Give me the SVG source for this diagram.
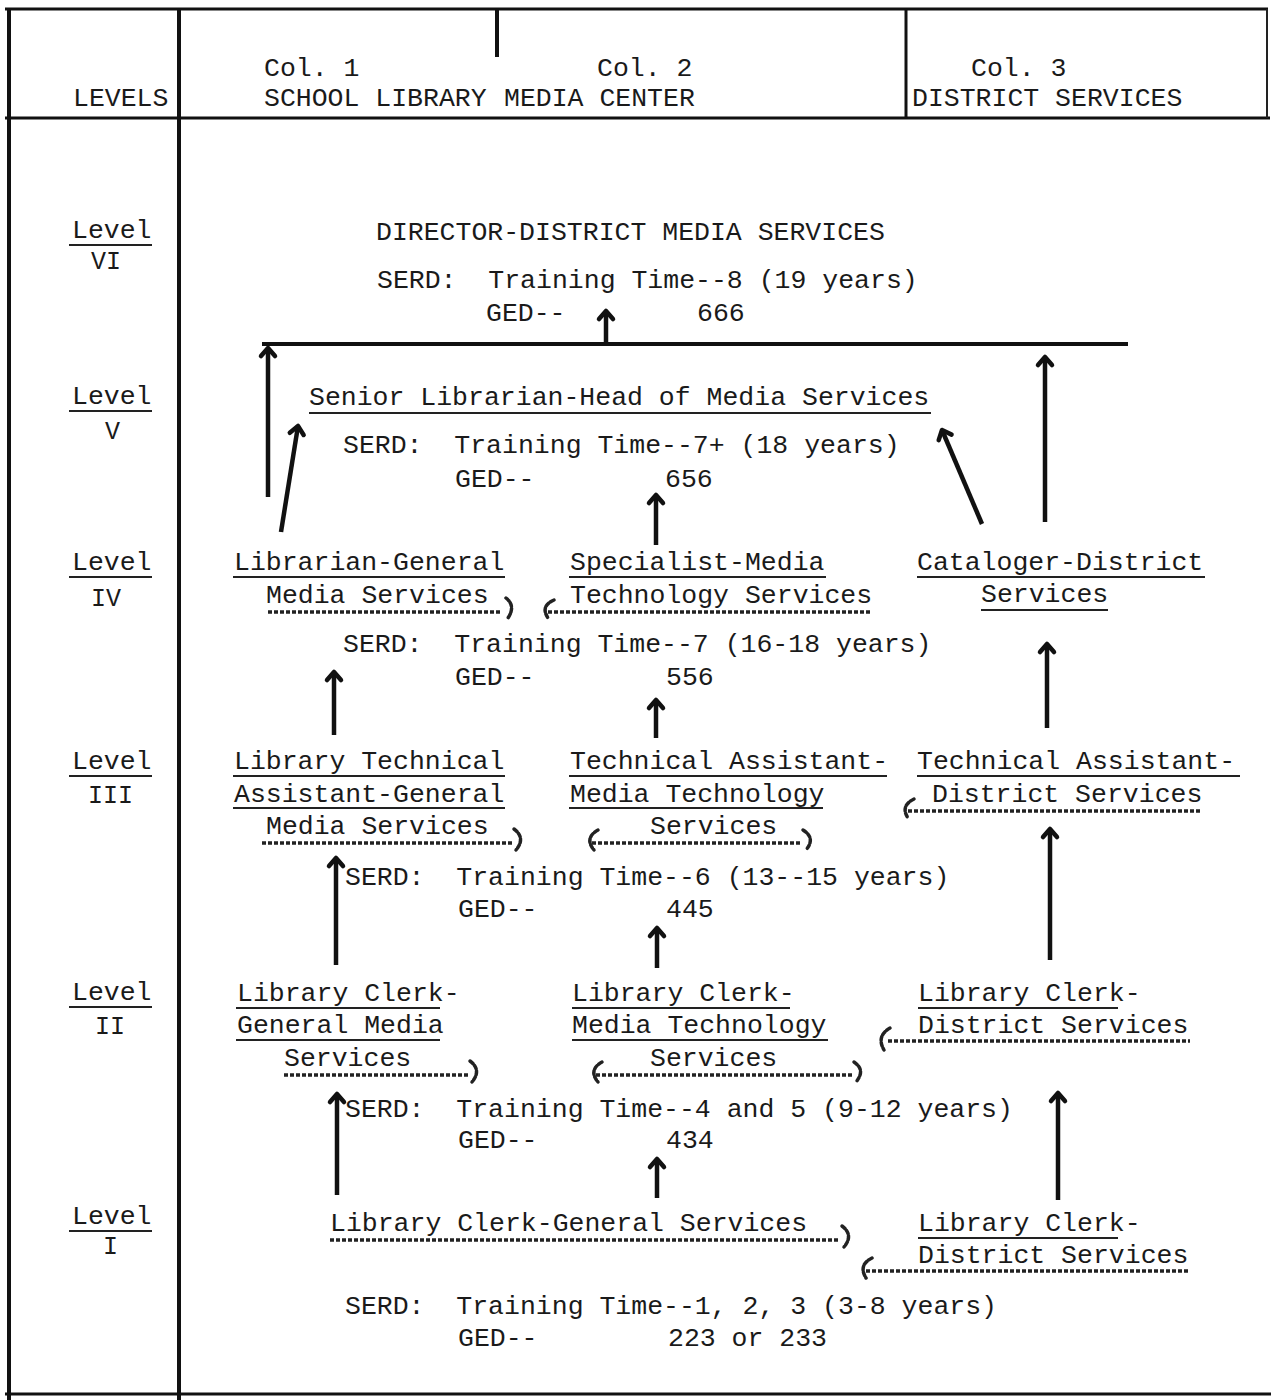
<svg xmlns="http://www.w3.org/2000/svg" width="1271" height="1400" viewBox="0 0 1271 1400" xml:space="preserve">
<style>
text{font-family:"Liberation Mono","Courier New",monospace;font-size:26.5px;fill:#1a1a1a;white-space:pre}
.lv{font-size:25px}
.frame{stroke:#111;stroke-width:4;fill:none}
.thin{stroke:#111;stroke-width:3;fill:none}
.ul{stroke:#222;stroke-width:2;fill:none}
.dot{stroke:#222;stroke-width:3.5;fill:none;stroke-dasharray:4 2}
.hook{stroke:#222;stroke-width:3.5;fill:none;stroke-dasharray:4 2;stroke-linecap:round}
.arr{stroke:#111;stroke-width:4.5;fill:none;marker-end:url(#ah)}
</style>
<defs>
<marker id="ah" markerUnits="userSpaceOnUse" markerWidth="24" markerHeight="24" viewBox="-12 -12 24 24" refX="0" refY="0" orient="auto">
<path d="M-8,-7 L0,0 L-8,7" stroke="#111" stroke-width="4.5" fill="none" stroke-linecap="round" stroke-linejoin="round"/>
</marker>
</defs>
<rect width="1271" height="1400" fill="#fff"/>

<g id="frame">
<line class="thin" x1="5" y1="9" x2="1268" y2="9"/>
<line class="thin" x1="5" y1="118" x2="1270" y2="118"/>
<line class="thin" x1="5" y1="1394" x2="1271" y2="1394"/>
<line class="frame" x1="9" y1="9" x2="9" y2="1400"/>
<line class="frame" x1="179" y1="9" x2="179" y2="1400"/>
<line class="frame" x1="497" y1="9" x2="497" y2="57"/>
<line class="thin" x1="906" y1="9" x2="906" y2="118"/>
<line class="ul" x1="1267" y1="9" x2="1267" y2="118"/>
</g>

<g id="header">
<text x="73" y="106">LEVELS</text>
<text x="264" y="76">Col. 1</text>
<text x="597" y="76">Col. 2</text>
<text x="971" y="76">Col. 3</text>
<text x="264" y="106">SCHOOL LIBRARY</text>
<text x="504" y="106">MEDIA CENTER</text>
<text x="912" y="106">DISTRICT SERVICES</text>
</g>

<g id="levels">
<text x="72" y="238">Level</text><line class="ul" x1="69" y1="245" x2="152" y2="245"/><text class="lv" x="91" y="269">VI</text>
<text x="72" y="404">Level</text><line class="ul" x1="69" y1="411" x2="152" y2="411"/><text class="lv" x="105" y="439">V</text>
<text x="72" y="570">Level</text><line class="ul" x1="69" y1="577" x2="152" y2="577"/><text class="lv" x="91" y="606">IV</text>
<text x="72" y="769">Level</text><line class="ul" x1="69" y1="776" x2="152" y2="776"/><text class="lv" x="88" y="803">III</text>
<text x="72" y="1000">Level</text><line class="ul" x1="69" y1="1007" x2="152" y2="1007"/><text class="lv" x="95" y="1034">II</text>
<text x="72" y="1224">Level</text><line class="ul" x1="69" y1="1231" x2="152" y2="1231"/><text class="lv" x="103" y="1254">I</text>
</g>

<g id="node-director">
<text x="376" y="240">DIRECTOR-DISTRICT MEDIA SERVICES</text>
<text x="377" y="288">SERD:  Training Time--8 (19 years)</text>
<text x="486" y="321">GED--</text><text x="697" y="321">666</text>
</g>

<g id="node-senior-librarian">
<text x="309" y="405">Senior Librarian-Head of Media Services</text>
<line class="ul" x1="309" y1="413" x2="931" y2="413"/>
<text x="343" y="453">SERD:  Training Time--7+ (18 years)</text>
<text x="455" y="487">GED--</text><text x="665" y="487">656</text>
</g>

<g id="node-librarian-general">
<text x="234" y="570">Librarian-General</text>
<line class="ul" x1="233" y1="577" x2="505" y2="577"/>
<text x="266" y="603">Media Services</text>
</g>
<g id="node-specialist-media">
<text x="570" y="570">Specialist-Media</text>
<line class="ul" x1="569" y1="577" x2="826" y2="577"/>
<text x="570" y="603">Technology Services</text>
</g>
<g id="node-cataloger">
<text x="917" y="570">Cataloger-District</text>
<line class="ul" x1="917" y1="577" x2="1205" y2="577"/>
<text x="981" y="602">Services</text>
<line class="ul" x1="981" y1="610" x2="1108" y2="610"/>
</g>
<g id="serd-4">
<text x="343" y="652">SERD:  Training Time--7 (16-18 years)</text>
<text x="455" y="685">GED--</text><text x="666" y="685">556</text>
</g>

<g id="node-lib-tech-assistant">
<text x="234" y="769">Library Technical</text>
<line class="ul" x1="233" y1="776" x2="505" y2="776"/>
<text x="234" y="802">Assistant-General</text>
<line class="ul" x1="233" y1="808" x2="505" y2="808"/>
<text x="266" y="834">Media Services</text>
</g>
<g id="node-tech-assistant-media">
<text x="570" y="769">Technical Assistant-</text>
<line class="ul" x1="569" y1="776" x2="887" y2="776"/>
<text x="570" y="802">Media Technology</text>
<line class="ul" x1="569" y1="808" x2="823" y2="808"/>
<text x="650" y="834">Services</text>
</g>
<g id="node-tech-assistant-district">
<text x="917" y="769">Technical Assistant-</text>
<line class="ul" x1="917" y1="776" x2="1240" y2="776"/>
<text x="932" y="802">District Services</text>
</g>
<g id="serd-3">
<text x="345" y="885">SERD:  Training Time--6 (13--15 years)</text>
<text x="458" y="917">GED--</text><text x="666" y="917">445</text>
</g>

<g id="node-clerk-general-media">
<text x="237" y="1001">Library Clerk-</text>
<line class="ul" x1="236" y1="1008" x2="440" y2="1008"/>
<text x="237" y="1033">General Media</text>
<line class="ul" x1="236" y1="1040" x2="440" y2="1040"/>
<text x="284" y="1066">Services</text>
</g>
<g id="node-clerk-media-tech">
<text x="572" y="1001">Library Clerk-</text>
<line class="ul" x1="572" y1="1008" x2="790" y2="1008"/>
<text x="572" y="1033">Media Technology</text>
<line class="ul" x1="572" y1="1040" x2="828" y2="1040"/>
<text x="650" y="1066">Services</text>
</g>
<g id="node-clerk-district-2">
<text x="918" y="1001">Library Clerk-</text>
<line class="ul" x1="918" y1="1008" x2="1118" y2="1008"/>
<text x="918" y="1033">District Services</text>
</g>
<g id="serd-2">
<text x="345" y="1117">SERD:  Training Time--4 and 5 (9-12 years)</text>
<text x="458" y="1148">GED--</text><text x="666" y="1148">434</text>
</g>

<g id="node-clerk-general-services">
<text x="330" y="1231">Library Clerk-General Services</text>
</g>
<g id="node-clerk-district-1">
<text x="918" y="1231">Library Clerk-</text>
<line class="ul" x1="918" y1="1238" x2="1118" y2="1238"/>
<text x="918" y="1263">District Services</text>
</g>
<g id="serd-1">
<text x="345" y="1314">SERD:  Training Time--1, 2, 3 (3-8 years)</text>
<text x="458" y="1346">GED--</text><text x="668" y="1346">223 or 233</text>
</g>

<g id="connectors">
<line class="thin" x1="262" y1="344" x2="1128" y2="344" style="stroke-width:4"/>
<line class="arr" x1="606" y1="342" x2="606" y2="311"/>
<line class="arr" x1="268" y1="497" x2="268" y2="348"/>
<line class="arr" x1="1045" y1="522" x2="1045" y2="357"/>
<line class="arr" x1="281" y1="532" x2="298" y2="426"/>
<line class="arr" x1="982" y1="524" x2="942" y2="430"/>
<line class="arr" x1="656" y1="545" x2="656" y2="495"/>
<line class="dot" x1="268" y1="612" x2="502" y2="612"/>
<path class="hook" d="M506,598 Q516,606 508,618"/>
<line class="dot" x1="548" y1="612" x2="870" y2="612"/>
<path class="hook" d="M554,600 Q540,606 548,618"/>
<line class="arr" x1="334" y1="735" x2="334" y2="672"/>
<line class="arr" x1="656" y1="738" x2="656" y2="700"/>
<line class="arr" x1="1047" y1="728" x2="1047" y2="644"/>
<line class="dot" x1="262" y1="843" x2="512" y2="843"/>
<path class="hook" d="M514,829 Q526,838 516,850"/>
<line class="dot" x1="592" y1="843" x2="800" y2="843"/>
<path class="hook" d="M598,830 Q584,838 594,850"/>
<path class="hook" d="M803,830 Q816,838 806,850"/>
<line class="dot" x1="908" y1="811" x2="1200" y2="811"/>
<path class="hook" d="M914,799 Q900,806 908,818"/>
<line class="arr" x1="336" y1="965" x2="336" y2="858"/>
<line class="arr" x1="657" y1="968" x2="657" y2="928"/>
<line class="arr" x1="1050" y1="960" x2="1050" y2="829"/>
<line class="dot" x1="284" y1="1075" x2="468" y2="1075"/>
<path class="hook" d="M470,1061 Q482,1070 472,1082"/>
<line class="dot" x1="596" y1="1075" x2="852" y2="1075"/>
<path class="hook" d="M602,1062 Q588,1070 598,1082"/>
<path class="hook" d="M854,1062 Q866,1070 856,1082"/>
<line class="dot" x1="888" y1="1041" x2="1190" y2="1041"/>
<path class="hook" d="M890,1028 Q876,1036 884,1050"/>
<line class="arr" x1="337" y1="1195" x2="337" y2="1094"/>
<line class="arr" x1="657" y1="1198" x2="657" y2="1159"/>
<line class="arr" x1="1058" y1="1200" x2="1058" y2="1093"/>
<line class="dot" x1="330" y1="1240" x2="838" y2="1240"/>
<path class="hook" d="M842,1226 Q854,1235 844,1247"/>
<line class="dot" x1="866" y1="1271" x2="1190" y2="1271"/>
<path class="hook" d="M872,1258 Q858,1265 866,1278"/>
</g>
</svg>
